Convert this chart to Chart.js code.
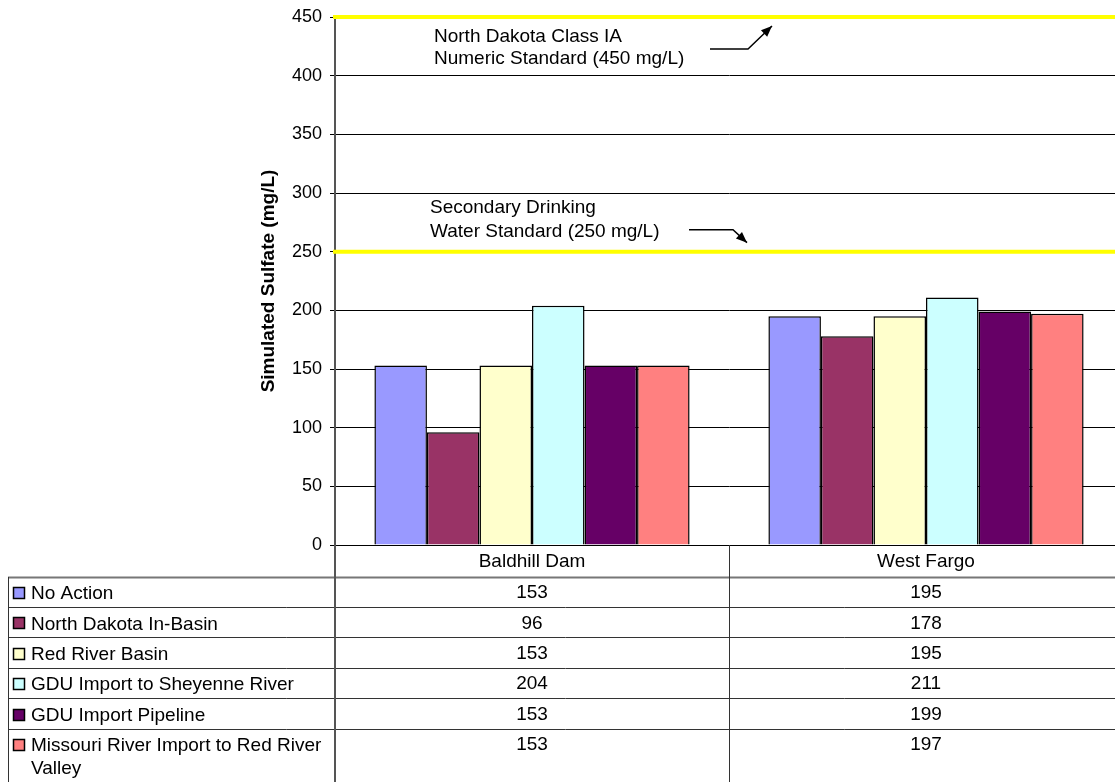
<!DOCTYPE html>
<html>
<head>
<meta charset="utf-8">
<script src="https://cdn.jsdelivr.net/npm/chart.js@4/dist/chart.umd.min.js"></script>
<style>
  html, body { margin: 0; padding: 0; background: #fff; overflow: hidden; }
  #wrap { width: 1123px; height: 782px; }
</style>
</head>
<body>
<div id="wrap"><canvas id="sulfateChart" width="1123" height="782"></canvas></div>
<script>
// categories and series values (mg/L)
const categories = ['Baldhill Dam', 'West Fargo'];
const noAction = [153, 195];
const ndInBasin = [96, 178];
const redRiverBasin = [153, 195];
const gduSheyenne = [204, 211];
const gduPipeline = [153, 199];
const missouriImport = [153, 197];

const seriesNames = [
    'No Action',
    'North Dakota In-Basin',
    'Red River Basin',
    'GDU Import to Sheyenne River',
    'GDU Import Pipeline',
    'Missouri River Import to Red River Valley',
];
const seriesValues = [noAction, ndInBasin, redRiverBasin, gduSheyenne, gduPipeline, missouriImport];
const seriesColors = ['#9999FF', '#993366', '#FFFFCC', '#CCFFFF', '#660066', '#FF8080'];

// standard lines and their notes
const standards = [450, 250];
const standardNotes = [
    ['North Dakota Class IA', 'Numeric Standard (450 mg/L)'],
    ['Secondary Drinking', 'Water Standard (250 mg/L)'],
];

const FONT = '"Liberation Sans", Arial, sans-serif';

function arrow(ctx, pts) {
    ctx.beginPath();
    ctx.moveTo(pts[0][0], pts[0][1]);
    for (let i = 1; i < pts.length; i++) ctx.lineTo(pts[i][0], pts[i][1]);
    ctx.stroke();
    const [x1, y1] = pts[pts.length - 2];
    const [x2, y2] = pts[pts.length - 1];
    const a = Math.atan2(y2 - y1, x2 - x1);
    const len = 11, half = 4.5;
    ctx.beginPath();
    ctx.moveTo(x2, y2);
    ctx.lineTo(x2 - len * Math.cos(a) + half * Math.sin(a), y2 - len * Math.sin(a) - half * Math.cos(a));
    ctx.lineTo(x2 - len * Math.cos(a) - half * Math.sin(a), y2 - len * Math.sin(a) + half * Math.cos(a));
    ctx.closePath();
    ctx.fill();
}

const extras = {
    id: 'extras',
    afterDatasetsDraw(chart) {
        const ctx = chart.ctx;
        const area = chart.chartArea;
        const y = chart.scales.y;
        ctx.save();
        // yellow standard lines
        ctx.strokeStyle = '#FFFF00';
        ctx.lineWidth = 4;
        standards.forEach(v => {
            const py = y.getPixelForValue(v);
            ctx.beginPath();
            ctx.moveTo(area.left - 2, py);
            ctx.lineTo(area.right, py);
            ctx.stroke();
        });
        // notes
        ctx.fillStyle = '#000';
        ctx.strokeStyle = '#000';
        ctx.lineWidth = 1.5;
        ctx.font = '19px ' + FONT;
        ctx.textBaseline = 'middle';
        ctx.textAlign = 'left';
        const top = y.getPixelForValue(standards[0]);
        ctx.fillText(standardNotes[0][0], area.left + 99, top + 20);
        ctx.fillText(standardNotes[0][1], area.left + 99, top + 42);
        arrow(ctx, [[area.left + 375, top + 32], [area.left + 413, top + 32], [area.left + 437, top + 9]]);
        const mid = y.getPixelForValue(standards[1]);
        ctx.fillText(standardNotes[1][0], area.left + 95, mid - 44);
        ctx.fillText(standardNotes[1][1], area.left + 95, mid - 20);
        arrow(ctx, [[area.left + 354, mid - 22], [area.left + 398, mid - 22], [area.left + 412, mid - 9]]);
        ctx.restore();
    },
    afterDraw(chart) {
        const ctx = chart.ctx;
        const area = chart.chartArea;
        const x = chart.scales.x;
        const bottom = chart.height;
        const tableLeft = 8;
        const headTop = area.bottom;
        const headBottom = headTop + 31.5;
        const rowH = 30.4;
        ctx.save();
        // horizontal rules
        for (let i = 0; i < seriesNames.length; i++) {
            const ry = Math.round(headBottom + i * rowH) + 0.5;
            ctx.lineWidth = i === 0 ? 2 : 1;
            ctx.strokeStyle = i === 0 ? '#777' : '#333';
            ctx.beginPath();
            ctx.moveTo(tableLeft, ry);
            ctx.lineTo(area.right, ry);
            ctx.stroke();
        }
        ctx.lineWidth = 1;
        ctx.strokeStyle = '#333';
        // vertical rules
        ctx.beginPath();
        ctx.moveTo(tableLeft + 0.5, Math.round(headBottom));
        ctx.lineTo(tableLeft + 0.5, bottom);
        ctx.stroke();
        ctx.strokeStyle = '#555';
        ctx.lineWidth = 2;
        ctx.beginPath();
        ctx.moveTo(area.left, area.bottom);
        ctx.lineTo(area.left, bottom);
        ctx.stroke();
        ctx.lineWidth = 1;
        ctx.strokeStyle = '#333';
        for (let i = 1; i < categories.length; i++) {
            const bx = Math.round((x.getPixelForValue(i - 1) + x.getPixelForValue(i)) / 2) + 0.5;
            ctx.beginPath();
            ctx.moveTo(bx, headTop);
            ctx.lineTo(bx, bottom);
            ctx.stroke();
        }
        // header
        ctx.fillStyle = '#000';
        ctx.font = '19px ' + FONT;
        ctx.textBaseline = 'middle';
        ctx.textAlign = 'center';
        categories.forEach((c, i) => {
            ctx.fillText(c, x.getPixelForValue(i), headTop + 16.5);
        });
        // rows
        seriesNames.forEach((name, r) => {
            const rTop = headBottom + r * rowH;
            const cy = rTop + 15.5;
            ctx.textAlign = 'center';
            ctx.fillStyle = '#000';
            seriesValues[r].forEach((v, i) => {
                ctx.fillText(String(v), x.getPixelForValue(i), cy + 1);
            });
            // legend key
            ctx.fillStyle = seriesColors[r];
            ctx.fillRect(13.5, Math.round(cy - 5) + 0.5, 11, 11);
            ctx.strokeStyle = '#000';
            ctx.lineWidth = 1.5;
            ctx.strokeRect(13.5, Math.round(cy - 5) + 0.5, 11, 11);
            ctx.lineWidth = 1;
            // label, wrapped
            ctx.fillStyle = '#000';
            ctx.textAlign = 'left';
            const words = name.split(' ');
            const lines = [];
            let line = '';
            words.forEach(w => {
                const test = line ? line + ' ' + w : w;
                if (ctx.measureText(test).width > area.left - 36 && line) {
                    lines.push(line);
                    line = w;
                } else {
                    line = test;
                }
            });
            lines.push(line);
            lines.forEach((l, k) => {
                ctx.fillText(l, 31, cy + 2 + k * 23);
            });
        });
        ctx.restore();
    },
};

new Chart(document.getElementById('sulfateChart').getContext('2d'), {
    type: 'bar',
    data: {
        labels: categories,
        datasets: seriesNames.map((name, i) => ({
            label: name,
            data: seriesValues[i],
            backgroundColor: seriesColors[i],
            borderColor: '#000',
            borderWidth: 1.5,
            categoryPercentage: 0.8,
            barPercentage: 1.0,
        })),
    },
    options: {
        responsive: false,
        animation: false,
        layout: {
            padding: { left: 250, top: 16, right: 0, bottom: 237 },
        },
        scales: {
            x: {
                display: false,
            },
            y: {
                min: 0,
                max: 450,
                ticks: {
                    stepSize: 50,
                    color: '#000',
                    padding: 8,
                    font: { family: FONT, size: 18, lineHeight: 1.0 },
                },
                grid: {
                    color: '#000',
                    lineWidth: 1,
                    tickLength: 5,
                },
                border: {
                    display: true,
                    color: '#555',
                    width: 2,
                },
                title: {
                    display: true,
                    text: 'Simulated Sulfate (mg/L)',
                    color: '#000',
                    padding: { top: 7, bottom: 0 },
                    font: { family: FONT, size: 19, weight: 'bold' },
                },
                afterFit(scale) {
                    scale.width = 85;
                },
            },
        },
        plugins: {
            legend: { display: false },
            tooltip: { enabled: false },
        },
    },
    plugins: [extras],
});
</script>
</body>
</html>
